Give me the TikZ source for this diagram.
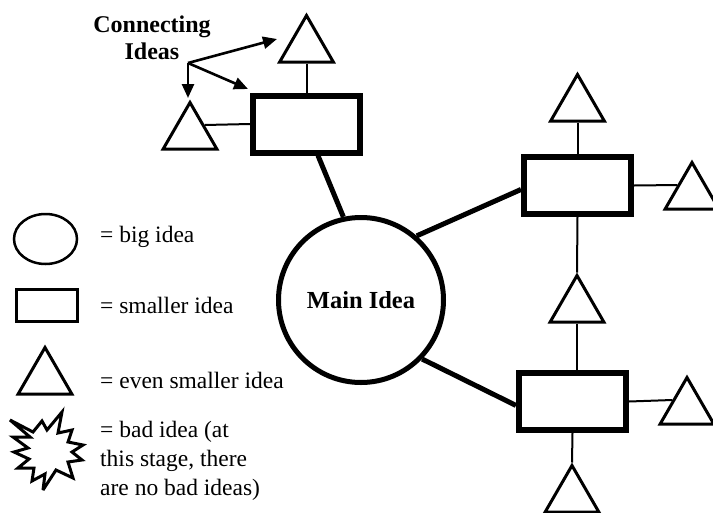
\documentclass[tikz,border=0pt]{standalone}
\usepackage{fontspec}
\setmainfont{Liberation Serif}
\usetikzlibrary{shapes.geometric,arrows.meta}
\begin{document}
\begin{tikzpicture}[x=1pt,y=-1pt,
  bigidea/.style={circle,draw,line width=5pt,minimum size=165pt,inner sep=0pt,
    font=\fontsize{24.5}{28}\selectfont\bfseries},
  ideabox/.style={rectangle,draw,line width=6pt,minimum width=107pt,minimum height=57pt,inner sep=0pt},
  tri/.style={regular polygon,regular polygon sides=3,draw,line width=3pt,
    minimum size=62pt,inner sep=0pt},
  thick link/.style={line width=5pt},
  thin link/.style={line width=2pt},
  pointer/.style={line width=2.6pt,-{Triangle[length=14pt,width=12pt]}},
  legtext/.style={anchor=base west,inner sep=0pt,font=\fontsize{23.5}{29}\selectfont},
  label text/.style={align=center,inner sep=0pt,font=\fontsize{24}{27}\selectfont\bfseries}
]
\useasboundingbox (0,0) rectangle (713,512);
\clip (0,0) rectangle (713,512);
\fill[white] (0,0) rectangle (713,512);

% main idea
\node[bigidea] (main) at (361,300) {Main Idea};

% smaller ideas
\node[ideabox] (r1) at (306.5,124) {};
\node[ideabox] (r2) at (577.5,185.5) {};
\node[ideabox] (r3) at (572.5,401.5) {};

% even smaller ideas
\node[tri] (t1) at (306.5,46.5) {};
\node[tri] (t2) at (190,133.5) {};
\node[tri] (t3) at (577.5,105.5) {};
\node[tri] (t4) at (692,193.5) {};
\node[tri] (t5) at (577,306.5) {};
\node[tri] (t6) at (687,408.5) {};
\node[tri] (t7) at (572,496.5) {};

% thick connectors
\draw[thick link] (main.102) -- (r1.-70);
\draw[thick link] (main.49) -- (r2.184);
\draw[thick link] (main.-44) -- (r3.184);

% thin connectors
\draw[thin link] (t1.side 2) -- (r1.north);
\draw[thin link] (t2.side 3) -- (r1.west);
\draw[thin link] (t3.side 2) -- (r2.north);
\draw[thin link] (r2.east) -- (t4.side 1);
\draw[thin link] (r2.south) -- (t5.corner 1);
\draw[thin link] (t5.side 2) -- (t5.side 2 |- r3.north);
\draw[thin link] (r3.east) -- (t6.side 1);
\draw[thin link] (r3.south) -- (t7.corner 1);

% connecting ideas label and arrows
\node[label text] (ci) at (152,38) {Connecting\\Ideas};
\coordinate (cio) at (188,63);
\coordinate (ca1) at (277,39);
\coordinate (ca2) at (248,89);
\coordinate (ca3) at (188,98);
\draw[pointer] (cio) -- (ca1);
\draw[pointer] (cio) -- (ca2);
\draw[pointer] (cio) -- (ca3);

% legend
\node[ellipse,draw,line width=2.5pt,minimum width=63pt,minimum height=50pt,inner sep=0pt] (lc) at (45.5,239) {};
\node[rectangle,draw,line width=3.5pt,minimum width=61pt,minimum height=32pt,inner sep=0pt] (lr) at (47,305.5) {};
\node[tri] (lt) at (45,378.5) {};
\draw[line width=3pt,line join=miter,miter limit=4,fill=white]
  (10,420) -- (33,432) -- (42,421) -- (47,430) -- (62,412) -- (58,433) --
  (72,430) -- (68,442) -- (83,445) -- (72,452) -- (82,460) -- (68,462) --
  (73,478) -- (56,470) -- (43,490) -- (45,474) -- (32,481) -- (34,468) --
  (18,468) -- (29,459) -- (14,452) -- (28,448) -- (13,437) -- (30,437) -- cycle;

\node[legtext] (l1) at (100,242) {= big idea};
\node[legtext] (l2) at (100,313) {= smaller idea};
\node[legtext] (l3) at (100,388) {= even smaller idea};
\node[legtext,align=left] (l4) at (100,495) {= bad idea (at\\this stage, there\\are no bad ideas)};
\end{tikzpicture}
\end{document}
